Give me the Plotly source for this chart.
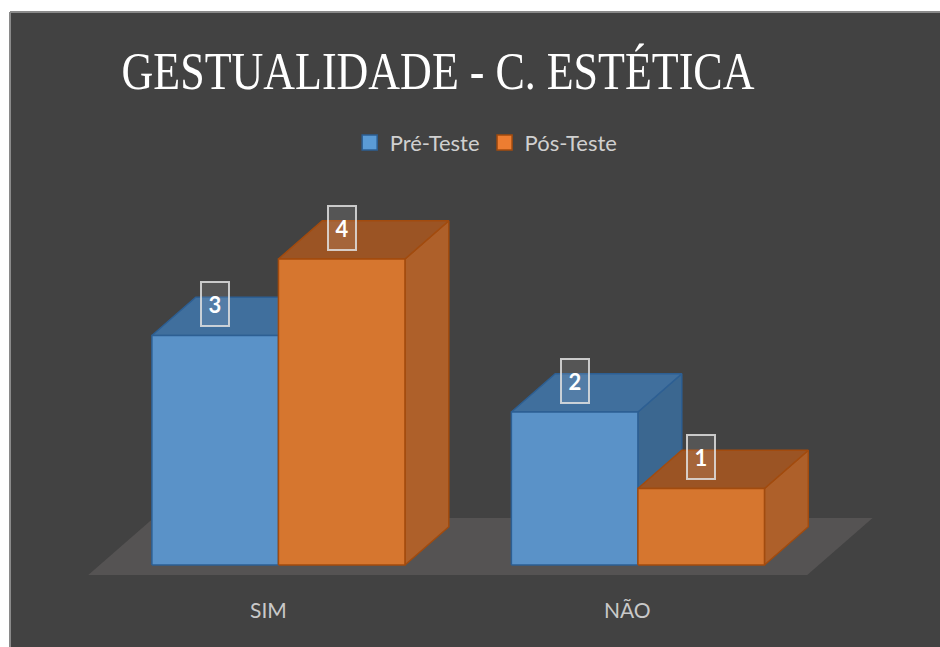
import plotly.graph_objects as go

# ---- data ----
categories = ["SIM", "NÃO"]
series_names = ["Pré-Teste", "Pós-Teste"]
pre_teste = [3, 2]
pos_teste = [4, 1]
title_text = "GESTUALIDADE - C. ESTÉTICA"

# ---- style ----
BG = "#424242"
FLOOR = "#555353"
styles = [
    dict(front="#5A92C8", top="#406F9D", side="#3B6790", edge="#2D5F93", legend="#5B9BD5"),
    dict(front="#D6762F", top="#9B5424", side="#AE602A", edge="#A24B0E", legend="#ED7D31"),
]
offsets = [-0.323, 0.029]   # front-face left edge relative to category position
bar_w = 0.352
dx, dy = 0.122, 0.5          # oblique depth in data units
FONT = "Lato"

fig = go.Figure()
xs = list(range(len(categories)))

# floor
fl_front = -0.13
fl_x0, fl_x1 = xs[0] - 0.5, xs[-1] + 0.5
fdx, fdy = dx * 1.49, dy * 1.49
fig.add_trace(go.Scatter(
    x=[fl_x0, fl_x1, fl_x1 + fdx, fl_x0 + fdx, fl_x0],
    y=[fl_front, fl_front, fl_front + fdy, fl_front + fdy, fl_front],
    mode="lines", fill="toself", fillcolor=FLOOR, line=dict(width=0),
    hoverinfo="skip", showlegend=False))

for s, (name, vals) in enumerate(zip(series_names, [pre_teste, pos_teste])):
    st = styles[s]
    fx, fy, tx, ty, sx, sy = [], [], [], [], [], []
    for i, v in zip(xs, vals):
        xl = i + offsets[s]
        xr = xl + bar_w
        fx += [xl, xr, xr, xl, xl, None]
        fy += [0, 0, v, v, 0, None]
        tx += [xl, xr, xr + dx, xl + dx, xl, None]
        ty += [v, v, v + dy, v + dy, v, None]
        sx += [xr, xr + dx, xr + dx, xr, xr, None]
        sy += [0, dy, v + dy, v, 0, None]
    for X, Y, col in [(sx, sy, st["side"]), (tx, ty, st["top"]), (fx, fy, st["front"])]:
        fig.add_trace(go.Scatter(
            x=X, y=Y, mode="lines", fill="toself", fillcolor=col,
            line=dict(color=st["edge"], width=1.5), hoverinfo="skip",
            showlegend=False))
    # legend entry
    fig.add_trace(go.Scatter(
        x=[None], y=[None], mode="markers", name=name,
        marker=dict(symbol="square", size=15, color=st["legend"],
                    line=dict(color=st["edge"], width=1.5))))
    # data labels
    for i, v in zip(xs, vals):
        fig.add_annotation(
            x=i + offsets[s] + bar_w / 2, y=v + 0.41, xref="x", yref="y",
            text=f"<b>{v}</b>", showarrow=False,
            font=dict(family=FONT, size=22, color="white"),
            width=24, height=40, borderpad=1, borderwidth=2,
            bordercolor="rgba(225,225,225,0.85)", bgcolor="rgba(255,255,255,0.10)")

# category labels
for i, c in zip(xs, categories):
    fig.add_annotation(x=i, y=-0.58, xref="x", yref="y", text=c, showarrow=False,
                       font=dict(family=FONT, size=21, color="#C9C9C9"),
                       yanchor="middle")

# thin light border at top/left of chart area
fig.add_shape(type="line", xref="paper", yref="paper", x0=0, x1=1, y0=1, y1=1,
              line=dict(color="#8A8A8A", width=2))
fig.add_shape(type="line", xref="paper", yref="paper", x0=0, x1=0, y0=0, y1=1,
              line=dict(color="#8A8A8A", width=2))

fig.update_layout(
    width=940, height=647,
    margin=dict(l=10, r=0, t=12, b=0),
    paper_bgcolor="white", plot_bgcolor=BG,
    title=dict(text=title_text, x=438 / 940, xanchor="center", xref="container",
               y=1 - 70 / 647, yanchor="middle", yref="container",
               font=dict(family="Liberation Serif", size=44, color="white")),
    legend=dict(orientation="h", x=0.512, xanchor="center", y=0.794, yanchor="middle",
                font=dict(family=FONT, size=22, color="#D0D0D0"),
                bgcolor="rgba(0,0,0,0)", itemclick=False, itemdoubleclick=False),
    xaxis=dict(visible=False, range=[-0.7177, 1.8693], fixedrange=True),
    yaxis=dict(visible=False, range=[-1.0719, 7.2288], fixedrange=True),
    showlegend=True,
)

post = """
document.body.style.margin = '0';
document.body.style.overflow = 'hidden';
var gd = document.getElementById('{plot_id}');
var t = gd ? gd.querySelector('.gtitle') : null;
if (t) {
  var by = parseFloat(t.getAttribute('y')) || 0;
  var ex = t.getAttribute('transform') || '';
  t.setAttribute('transform', ex + ' translate(0,' + by + ') scale(1,1.22) translate(0,' + (-by) + ')');
}
"""

fig.write_html("out.html", post_script=post,
               config={"displayModeBar": False, "staticPlot": True})
